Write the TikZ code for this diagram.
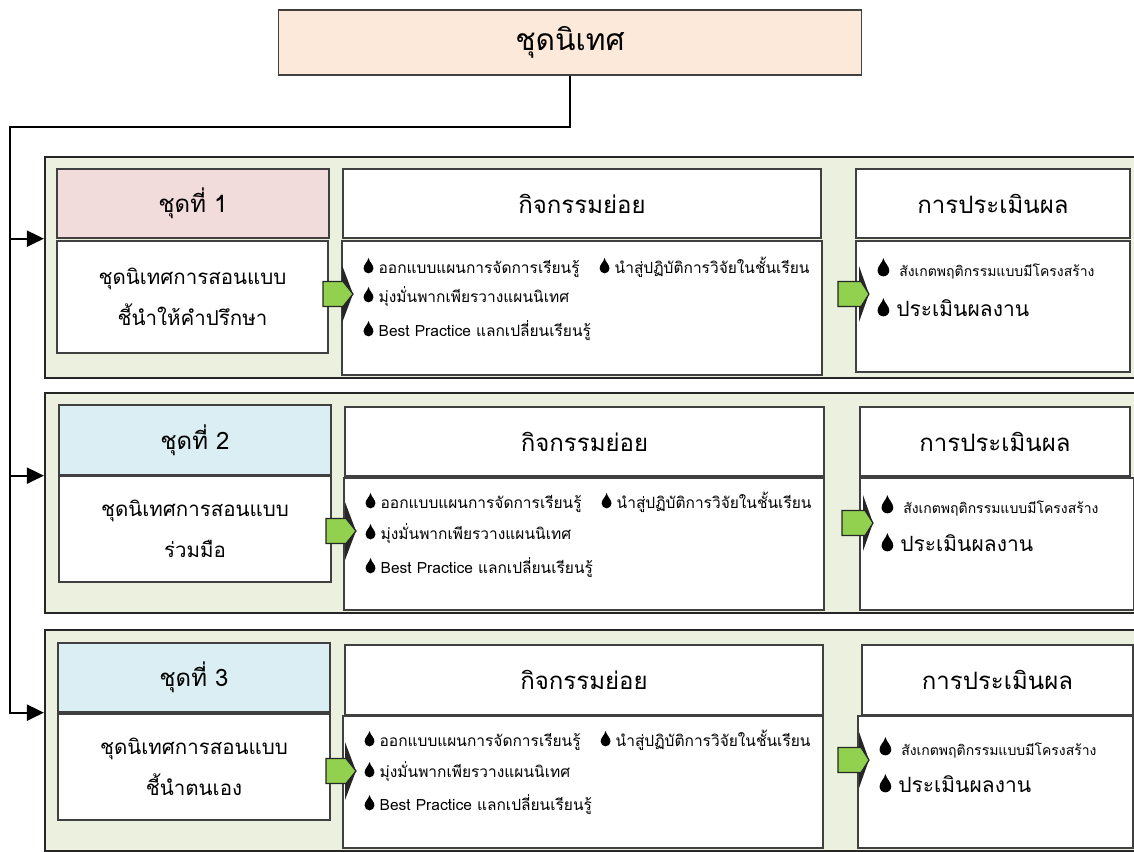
\documentclass[tikz,border=0pt]{standalone}
\usepackage{fontspec}
\setmainfont[Script=Thai]{Loma}
\usetikzlibrary{arrows.meta}
\definecolor{panelgreen}{HTML}{EBF1DE}
\definecolor{titlepeach}{HTML}{FDE9D9}
\definecolor{setpink}{HTML}{F2DCDB}
\definecolor{setblue}{HTML}{DAEEF3}
\definecolor{arrowgreen}{HTML}{92D050}
\newcommand{\drop}[1][1.1]{\tikz[baseline=0pt,x=#1pt,y=#1pt]\fill (0,14) .. controls (1,10) and (4.5,8) .. (4.5,4.5) arc[start angle=0,end angle=-180,radius=4.5] .. controls (-4.5,8) and (-1,10) .. (0,14);}
\begin{document}
\begin{tikzpicture}[x=1pt,y=-1pt,
  box/.style={draw=black!75, line width=1.3pt, fill=white, inner sep=0pt},
  panel/.style={draw=black!85, line width=2.2pt, fill=panelgreen, inner sep=0pt, minimum width=1100pt},
  head/.style={box, minimum height=69pt, font=\fontsize{24}{26}\selectfont},
  desc/.style={box, align=center, font=\fontsize{20.5}{41}\selectfont},
  item/.style={anchor=base west, inner sep=0pt, font=\fontsize{15.5}{17}\selectfont},
  evitem/.style={item, font=\fontsize{14}{16}\selectfont},
  evbig/.style={item, font=\fontsize{21}{23}\selectfont},
  wings/.style={fill=black!85},
  shaft/.style={fill=arrowgreen, draw=black!85, line width=1.2pt},
  conn/.style={line width=2pt, -{Triangle[length=17pt,width=16pt]}}]
\useasboundingbox (0,0) rectangle (1134,851);
\clip (0,0) rectangle (1134,851);
\node[box, fill=titlepeach, minimum width=583pt, minimum height=65pt, font=\fontsize{30}{32}\selectfont] (title) at (570,42.5) {ชุดนิเทศ};
% panel 1
\node[panel, minimum height=221pt] (panel1) at (595,267.5) {};
\node[head, fill=setpink, minimum width=272pt] (set1) at (193,203.5) {ชุดที่ 1};
\node[desc, minimum width=271pt, minimum height=112pt] (desc1) at (192.5,297) {ชุดนิเทศการสอนแบบ\\ชี้นำให้คำปรึกษา};
\node[head, minimum width=478pt] (head1) at (582,203.5) {กิจกรรมย่อย};
\node[box, minimum width=480pt, minimum height=134pt] (act1) at (582,308) {};
\node[head, minimum width=274pt] (evh1) at (993,203.5) {การประเมินผล};
\node[box, minimum width=274pt, minimum height=131pt] (ev1) at (993,306.5) {};
\node[item] (a1p) at ([shift={(22,33)}]act1.north west) {\drop\ ออกแบบแผนการจัดการเรียนรู้\hspace{20pt}\drop\ นำสู่ปฏิบัติการวิจัยในชั้นเรียน};
\node[item] (a1q) at ([shift={(22,62)}]act1.north west) {\drop\ มุ่งมั่นพากเพียรวางแผนนิเทศ};
\node[item] (a1r) at ([shift={(22,96)}]act1.north west) {\drop\ Best Practice แลกเปลี่ยนเรียนรู้};
\node[evitem] (e1p) at ([shift={(22,36)}]ev1.north west) {\drop[1.3]\hspace{10pt}สังเกตพฤติกรรมแบบมีโครงสร้าง};
\node[evbig] (e1q) at ([shift={(22,76)}]ev1.north west) {\drop[1.3]\ ประเมินผลงาน};
% panel 2
\node[panel, minimum height=220pt] (panel2) at (595,503) {};
\node[head, fill=setblue, minimum width=272pt, minimum height=70pt] (set2) at (195,440) {ชุดที่ 2};
\node[desc, minimum width=272pt, minimum height=106pt] (desc2) at (195,529) {ชุดนิเทศการสอนแบบ\\ร่วมมือ};
\node[head, minimum width=479pt] (head2) at (584.5,441.5) {กิจกรรมย่อย};
\node[box, minimum width=480pt, minimum height=132pt] (act2) at (584,544) {};
\node[head, minimum width=270pt] (evh2) at (995,441.5) {การประเมินผล};
\node[box, minimum width=274pt, minimum height=132pt] (ev2) at (997,544) {};
\node[item] (a2p) at ([shift={(22,31)}]act2.north west) {\drop\ ออกแบบแผนการจัดการเรียนรู้\hspace{20pt}\drop\ นำสู่ปฏิบัติการวิจัยในชั้นเรียน};
\node[item] (a2q) at ([shift={(22,62)}]act2.north west) {\drop\ มุ่งมั่นพากเพียรวางแผนนิเทศ};
\node[item] (a2r) at ([shift={(22,96)}]act2.north west) {\drop\ Best Practice แลกเปลี่ยนเรียนรู้};
\node[evitem] (e2p) at ([shift={(22,36)}]ev2.north west) {\drop[1.3]\hspace{10pt}สังเกตพฤติกรรมแบบมีโครงสร้าง};
\node[evbig] (e2q) at ([shift={(22,74)}]ev2.north west) {\drop[1.3]\ ประเมินผลงาน};
% panel 3
\node[panel, minimum height=221pt] (panel3) at (595,740.5) {};
\node[head, fill=setblue, minimum width=272pt] (set3) at (194,677.5) {ชุดที่ 3};
\node[desc, minimum width=272pt, minimum height=106pt] (desc3) at (194,767) {ชุดนิเทศการสอนแบบ\\ชี้นำตนเอง};
\node[head, minimum width=478pt, minimum height=70pt] (head3) at (584,680) {กิจกรรมย่อย};
\node[box, minimum width=480pt, minimum height=132pt] (act3) at (583,782) {};
\node[head, minimum width=271pt, minimum height=70pt] (evh3) at (997.5,680) {การประเมินผล};
\node[box, minimum width=275pt, minimum height=132pt] (ev3) at (995.5,782) {};
\node[item] (a3p) at ([shift={(22,31)}]act3.north west) {\drop\ ออกแบบแผนการจัดการเรียนรู้\hspace{20pt}\drop\ นำสู่ปฏิบัติการวิจัยในชั้นเรียน};
\node[item] (a3q) at ([shift={(22,62)}]act3.north west) {\drop\ มุ่งมั่นพากเพียรวางแผนนิเทศ};
\node[item] (a3r) at ([shift={(22,95)}]act3.north west) {\drop\ Best Practice แลกเปลี่ยนเรียนรู้};
\node[evitem] (e3p) at ([shift={(22,40)}]ev3.north west) {\drop[1.3]\hspace{10pt}สังเกตพฤติกรรมแบบมีโครงสร้าง};
\node[evbig] (e3q) at ([shift={(22,77)}]ev3.north west) {\drop[1.3]\ ประเมินผลงาน};
% block arrows
\foreach \n/\ax/\ay/\bx/\by in {1/323/294/838/294, 2/326/531/842/523, 3/326/771/838/760} {
  \coordinate (ga\n) at (\ax,\ay);
  \coordinate (gb\n) at (\bx,\by);
  \fill[wings] ([shift={(19,-29)}]ga\n) -- ([shift={(30,0)}]ga\n) -- ([shift={(19,29)}]ga\n) -- cycle;
  \filldraw[shaft] ([shift={(0,-12.5)}]ga\n) -- ([shift={(20,-12.5)}]ga\n) -- ([shift={(30,0)}]ga\n) -- ([shift={(20,12.5)}]ga\n) -- ([shift={(0,12.5)}]ga\n) -- cycle;
  \fill[wings] ([shift={(21,-28)}]gb\n) -- ([shift={(31,0)}]gb\n) -- ([shift={(21,28)}]gb\n) -- cycle;
  \filldraw[shaft] ([shift={(0,-12.5)}]gb\n) -- ([shift={(23,-12.5)}]gb\n) -- ([shift={(31,0)}]gb\n) -- ([shift={(23,12.5)}]gb\n) -- ([shift={(0,12.5)}]gb\n) -- cycle;
}
% connectors
\coordinate (trunk) at (10,127);
\draw[conn] (title.south) |- (trunk) |- (panel3.west |- set3.south);
\draw[conn] (trunk |- set1.south) -- (panel1.west |- set1.south);
\draw[conn] (trunk |- set2.south) -- (panel2.west |- set2.south);
\end{tikzpicture}
\end{document}
